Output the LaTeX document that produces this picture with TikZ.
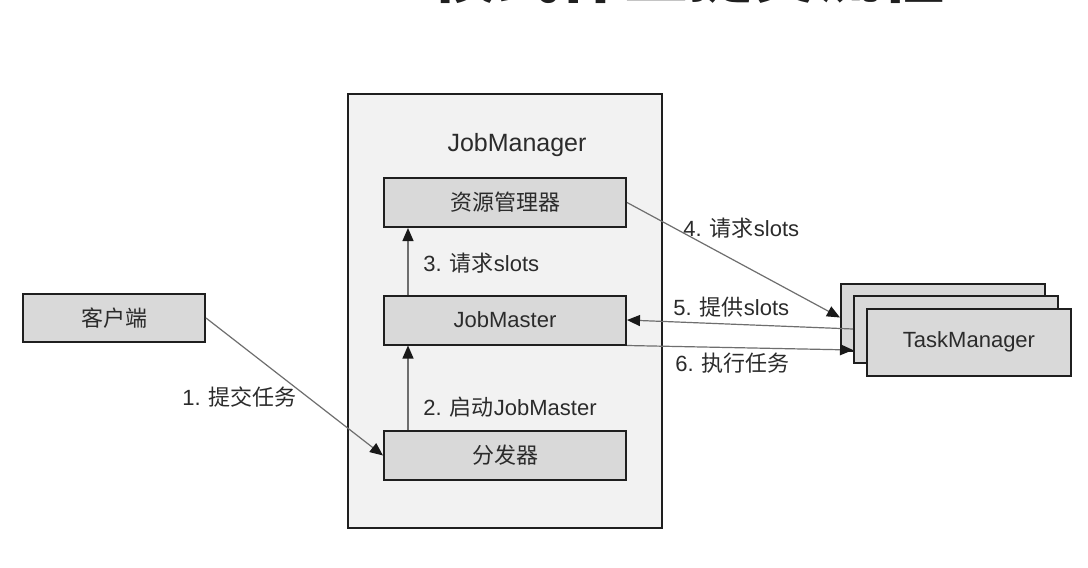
\documentclass[tikz,border=0pt]{standalone}
\usepackage{fontspec}
\setmainfont{Liberation Sans}
\newfontfamily\cjk{Noto Sans CJK SC}
\usetikzlibrary{arrows.meta}
\definecolor{boxgray}{HTML}{D9D9D9}
\definecolor{jmgray}{HTML}{F2F2F2}
\definecolor{linegray}{HTML}{6E6E6E}
\definecolor{txt}{HTML}{2B2B2B}
\begin{document}
\begin{tikzpicture}[
		x=0.5pt, y=-0.5pt,
		box/.style={draw=black!88,line width=1pt,fill=boxgray,text=txt,inner sep=0pt,
			minimum width=121pt,minimum height=24.5pt,font=\fontsize{11}{13}\selectfont},
		tmbox/.style={box,minimum width=102pt,minimum height=33.5pt},
		lbl/.style={anchor=west,inner sep=0pt,text=txt,font=\fontsize{11}{13}\selectfont},
		arr/.style={draw=linegray,line width=0.6pt,-{Triangle[length=6.5pt,width=5.5pt,color=black!90]}}
		]
		\useasboundingbox[fill=white] (0,0) rectangle (1088,568);
		\begin{scope}
			\clip (0,0) rectangle (1088,568);
			\node[anchor=base,inner sep=0pt,text=black!88,font=\fontsize{32}{36}\selectfont\bfseries] (title) at (516,-2.5)
				{Standalone{\cjk 模式作业提交流程}};
		\end{scope}
		% JobManager
		\node[draw=black!88,line width=1pt,fill=jmgray,minimum width=157pt,minimum height=217pt,inner sep=0pt] (jmbox) at (505,311) {};
		\node[inner sep=0pt,text=txt,font=\fontsize{12.5}{15}\selectfont] (jmtitle) at (517,145) {JobManager};
		\node[box] (rm) at (505,202.5) {\cjk 资源管理器};
		\node[box] (jm) at (505,320) {JobMaster};
		\node[box] (disp) at (505,455.5) {\cjk 分发器};
		\node[box,minimum width=91pt,minimum height=24pt] (client) at (114,318) {\cjk 客户端};
		% TaskManagers
		\node[tmbox] (tm1) at (943,317.5) {};
		\node[tmbox] (tm2) at (956,329) {};
		\node[tmbox] (tm3) at (969,342) {TaskManager};
		% arrows
		\draw[arr] (client.east) -- (disp.west);
		\draw[arr] ([xshift=12.5pt]disp.north west) -- ([xshift=12.5pt]jm.south west);
		\draw[arr] ([xshift=12.5pt]jm.north west) -- ([xshift=12.5pt]rm.south west);
		\draw[arr] (rm.east) -- (tm1.west);
		\draw[arr] (tm2.west) -- (jm.east);
		\draw[arr] (jm.south east) -- ([yshift=-10.5pt]tm2.west);
		% labels
		\node[lbl] (l1) at (182,397) {1. {\cjk 提交任务}};
		\node[lbl] (l2) at (423,407) {2. {\cjk 启动}JobMaster};
		\node[lbl] (l3) at (423,263) {3. {\cjk 请求}slots};
		\node[lbl] (l4) at (683,228) {4. {\cjk 请求}slots};
		\node[lbl] (l5) at (673,307) {5. {\cjk 提供}slots};
		\node[lbl] (l6) at (675,363) {6. {\cjk 执行任务}};
	\end{tikzpicture}
\end{document}
